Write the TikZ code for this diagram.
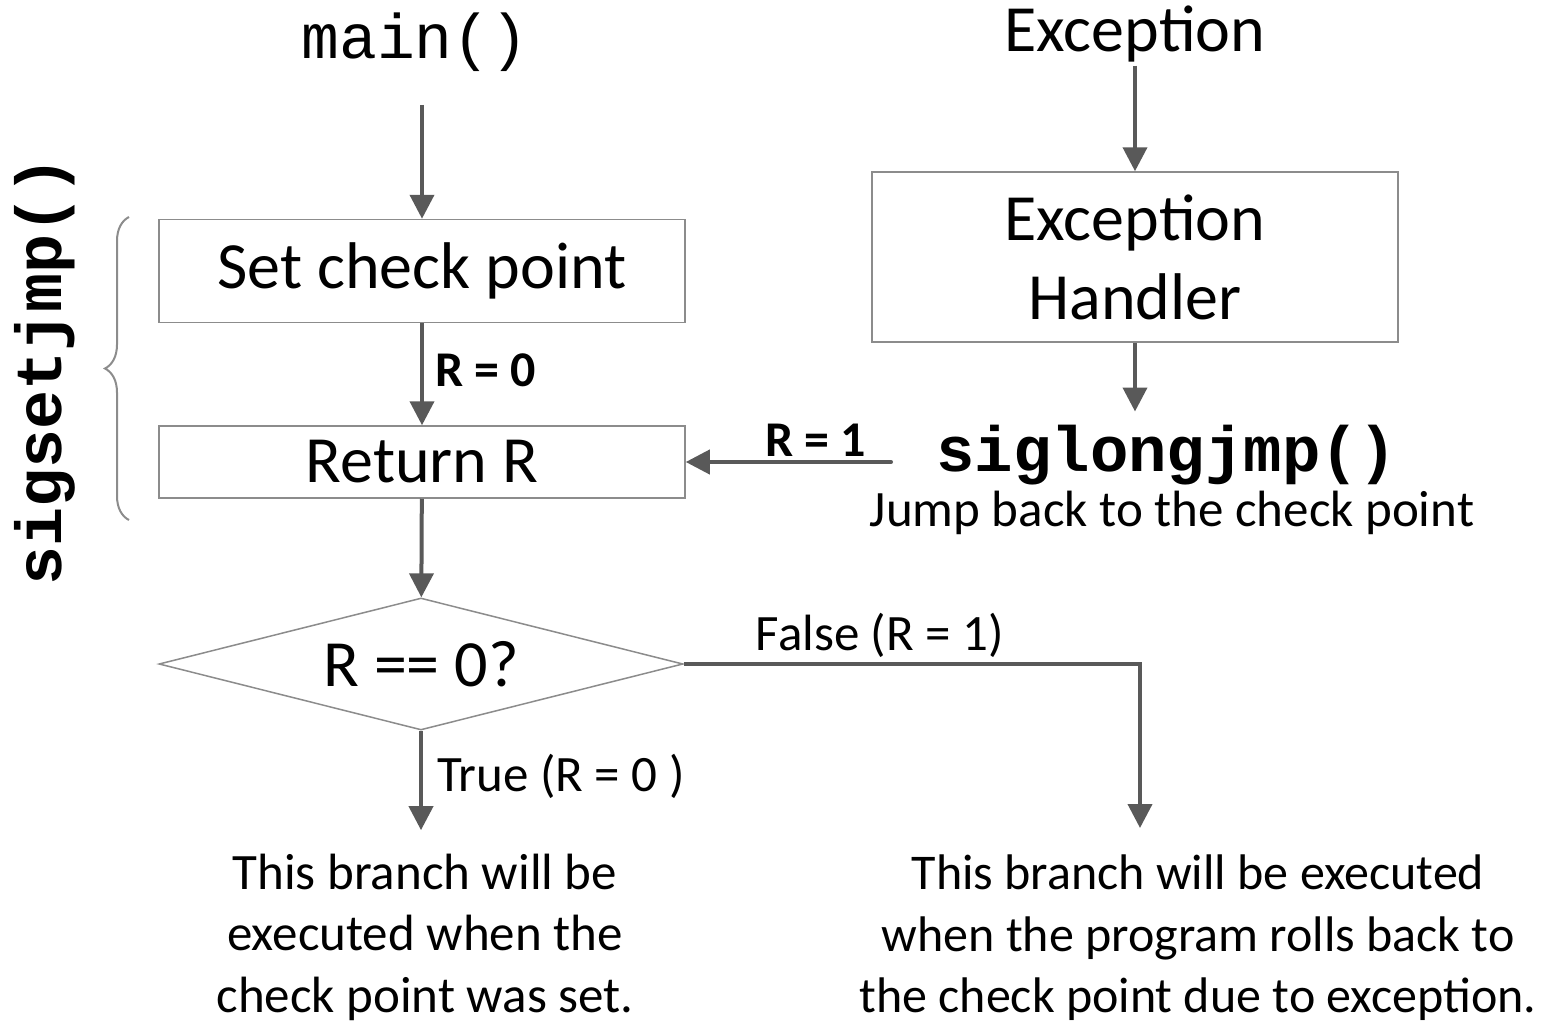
\documentclass[tikz,border=0pt]{standalone}
\usepackage{fontspec}
\setmainfont{Carlito}
\setmonofont{Liberation Mono}
\usetikzlibrary{arrows.meta, shapes.geometric, positioning, calc, decorations.pathreplacing}
\usepackage{xcolor}

\definecolor{arrowgray}{HTML}{595959}
\definecolor{boxgray}{HTML}{8C8C8C}

\newcommand{\bigtext}{\fontsize{66}{79}\selectfont}
\newcommand{\midtext}{\fontsize{51}{61.5}\selectfont}

\tikzset{
  procbox/.style={rectangle, draw=boxgray, line width=1.5pt, fill=white,
    minimum width=526pt, inner sep=0pt, font=\bigtext},
  decbox/.style={diamond, draw=boxgray, line width=1.5pt, fill=white,
    aspect=3.97, minimum width=524pt, minimum height=132pt, inner sep=0pt, font=\bigtext},
  flow/.style={draw=arrowgray, line width=4pt, -{Triangle[length=24pt,width=24pt]}},
  edgelabel/.style={font=\bfseries\fontsize{50}{55}\selectfont, inner sep=4pt},
  branchlabel/.style={font=\fontsize{51}{55}\selectfont, inner sep=4pt}
}

\begin{document}
\begin{tikzpicture}[x=1pt, y=-1pt]
  \useasboundingbox (0,0) rectangle (1550,1025);

  % left column
  \node[font=\ttfamily\fontsize{63}{70}\selectfont] (maincall) at (415,42) {main()};
  \node[procbox, minimum height=103pt] (setcp) at (422,271) {Set check point};
  \node[procbox, minimum height=72pt] (retr) at (422,462) {Return R};
  \node[decbox] (check) at (421,664) {R == 0?};
  \node[align=center, font=\midtext] (truenote) at (425,937)
    {This branch will be\\executed when the\\check point was set.};

  % right column
  \node[font=\bigtext] (exctitle) at (1135,34) {Exception};
  \node[procbox, minimum height=170pt, align=center] (handler) at (1135,257)
    {Exception\\Handler};
  \node[font=\ttfamily\bfseries\fontsize{64}{70}\selectfont] (longjmp) at (1167,455) {siglongjmp()};
  \node[font=\fontsize{51}{58}\selectfont] (jumpnote) at (1172,513) {Jump back to the check point};
  \node[align=center, font=\fontsize{50}{61.5}\selectfont] (falsenote) at (1198,938)
    {This branch will be executed\\when the program rolls back to\\the check point due to exception.};
  \coordinate (falseend) at (1140,828);

  % sigsetjmp bracket
  \node[rotate=90, font=\ttfamily\bfseries\fontsize{65}{70}\selectfont] (setjmp) at (45,371) {sigsetjmp()};
  \coordinate (bracetop) at (129,217);
  \coordinate (bracebot) at (129,520);
  \draw[boxgray, line width=2pt, decorate, decoration={brace, amplitude=24pt}]
    (bracebot) -- (bracetop);

  % connectors
  \draw[flow, shorten <=30pt] (setcp.north |- maincall.south) -- (setcp.north);
  \draw[flow] (setcp) -- node[edgelabel, right, inner xsep=11pt, pos=0.46] {R = 0} (retr);
  \draw[flow] (retr) -- (check);
  \draw[flow, shorten >=20pt] (check) -- node[branchlabel, right, inner xsep=14pt, pos=0.38] {True (R = 0 )} (check.south |- truenote.north);
  \draw[flow] (check.east) -- node[branchlabel, above, pos=0.43] {False (R = 1)} (falseend |- check.east) -- (falseend);
  \draw[flow] (exctitle) -- (handler);
  \draw[flow, shorten >=10pt] (handler) -- (handler.south |- longjmp.north);
  \draw[flow, shorten <=42pt, line cap=round] (retr.east -| longjmp.west) -- node[edgelabel, above, pos=0.475] {R = 1} (retr.east);
\end{tikzpicture}
\end{document}
